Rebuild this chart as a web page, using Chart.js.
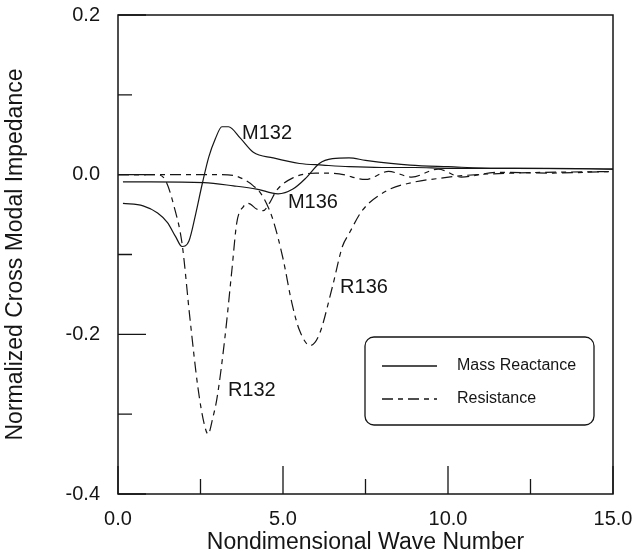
<!DOCTYPE html>
<html>
<head>
<meta charset="utf-8">
<script src="https://cdn.jsdelivr.net/npm/chart.js@4.4.0/dist/chart.umd.min.js"></script>
<style>
html,body{margin:0;padding:0;background:#fff;}
#wrap{width:633px;height:556px;position:relative;}
</style>
</head>
<body>
<div id="wrap"><canvas id="c" width="633" height="556"></canvas></div>
<script>
// ---- data ----
const m132X = [0.15, 0.76, 1.2, 1.5, 1.75, 1.94, 2.15, 2.35, 2.55, 2.75, 2.95, 3.15, 3.35, 3.7, 4.1, 4.7, 5.5, 6.2, 7.0, 8.0, 9.0, 10.0, 12.0, 15.0];
const m132Y = [-0.036, -0.039, -0.048, -0.060, -0.078, -0.090, -0.083, -0.050, -0.012, 0.022, 0.045, 0.060, 0.060, 0.046, 0.028, 0.021, 0.014, 0.012, 0.010, 0.009, 0.009, 0.008, 0.008, 0.007];

const m136X = [0.15, 1.0, 2.6, 3.5, 4.2, 4.85, 5.3, 5.7, 6.1, 6.5, 7.0, 7.5, 8.85, 10.0, 11.5, 13.0, 15.0];
const m136Y = [-0.009, -0.009, -0.010, -0.014, -0.018, -0.024, -0.018, -0.004, 0.014, 0.020, 0.021, 0.018, 0.012, 0.010, 0.008, 0.008, 0.007];

const r132X = [0.0, 1.2, 1.45, 1.7, 1.94, 2.18, 2.42, 2.6, 2.73, 2.87, 3.0, 3.24, 3.45, 3.6, 3.8, 3.95, 4.2, 4.4, 4.6, 4.8, 5.3, 6.0, 6.7, 7.5, 8.2, 8.9, 9.7, 10.4, 11.5, 13.0, 15.0];
const r132Y = [0.0, 0.0, -0.008, -0.040, -0.086, -0.180, -0.266, -0.310, -0.325, -0.305, -0.280, -0.204, -0.120, -0.060, -0.040, -0.036, -0.043, -0.045, -0.035, -0.020, -0.004, 0.002, 0.001, -0.006, 0.004, -0.003, 0.007, -0.003, 0.003, 0.002, 0.004];

const r136X = [0.0, 3.0, 3.5, 3.9, 4.1, 4.3, 4.5, 4.7, 5.0, 5.27, 5.5, 5.82, 6.1, 6.5, 6.8, 7.0, 7.4, 8.15, 8.9, 9.85, 10.5, 12.0, 15.0];
const r136Y = [0.0, 0.0, -0.001, -0.008, -0.014, -0.022, -0.036, -0.057, -0.105, -0.161, -0.195, -0.214, -0.200, -0.140, -0.090, -0.074, -0.045, -0.020, -0.010, -0.004, -0.001, 0.002, 0.004];

const xMajorTicks = [0, 5, 10, 15];
const xMinorTicks = [2.5, 7.5, 12.5];
const yMajorTicks = [-0.4, -0.2, 0.0, 0.2];
const yMinorTicks = [-0.3, -0.1, 0.1];

const seriesLabels = [
  {text: 'M132', x: 3.76, y: 0.051},
  {text: 'M136', x: 5.15, y: -0.035},
  {text: 'R136', x: 6.73, y: -0.141},
  {text: 'R132', x: 3.33, y: -0.270}
];
const legendItems = [
  {text: 'Mass Reactance', dash: []},
  {text: 'Resistance', dash: [11, 5, 5, 5]}
];

// ---- helpers ----
const ink = '#151515';
const fam = '"Liberation Sans", Arial, Helvetica, sans-serif';
const resDash = [11, 5, 5, 5];
const pts = (xs, ys) => xs.map((x, i) => ({x: x, y: ys[i]}));
const fmt = v => (Math.abs(v) < 1e-9 ? 0 : v).toFixed(1);
const noPad = s => { s.paddingTop = 0; s.paddingBottom = 0; s.paddingLeft = 0; s.paddingRight = 0; };

function ds(label, xs, ys, dash) {
  return {
    label: label,
    data: pts(xs, ys),
    borderColor: ink,
    borderWidth: 1.2,
    borderDash: dash,
    pointRadius: 0,
    fill: false,
    tension: 0.4,
    cubicInterpolationMode: 'monotone'
  };
}

const decor = {
  id: 'decor',
  afterDatasetsDraw(chart) {
    const {ctx, chartArea: a, scales: {x, y}} = chart;
    ctx.save();
    ctx.strokeStyle = ink;
    ctx.lineWidth = 1.5;
    ctx.setLineDash([]);
    ctx.strokeRect(a.left, a.top, a.right - a.left, a.bottom - a.top);
    ctx.lineWidth = 1.3;
    ctx.beginPath();
    xMajorTicks.forEach(v => { const px = x.getPixelForValue(v); ctx.moveTo(px, a.bottom); ctx.lineTo(px, a.bottom - 28); });
    xMinorTicks.forEach(v => { const px = x.getPixelForValue(v); ctx.moveTo(px, a.bottom); ctx.lineTo(px, a.bottom - 15); });
    yMajorTicks.forEach(v => { const py = y.getPixelForValue(v); ctx.moveTo(a.left, py); ctx.lineTo(a.left + 28, py); });
    yMinorTicks.forEach(v => { const py = y.getPixelForValue(v); ctx.moveTo(a.left, py); ctx.lineTo(a.left + 14, py); });
    ctx.stroke();

    // series labels
    ctx.fillStyle = ink;
    ctx.font = '20px ' + fam;
    ctx.textAlign = 'left';
    ctx.textBaseline = 'middle';
    seriesLabels.forEach(l => ctx.fillText(l.text, x.getPixelForValue(l.x), y.getPixelForValue(l.y)));

    // legend box
    const bx = 365, by = 337, bw = 229, bh = 88, r = 9;
    ctx.lineWidth = 1.3;
    ctx.beginPath();
    ctx.moveTo(bx + r, by);
    ctx.lineTo(bx + bw - r, by);
    ctx.arcTo(bx + bw, by, bx + bw, by + r, r);
    ctx.lineTo(bx + bw, by + bh - r);
    ctx.arcTo(bx + bw, by + bh, bx + bw - r, by + bh, r);
    ctx.lineTo(bx + r, by + bh);
    ctx.arcTo(bx, by + bh, bx, by + bh - r, r);
    ctx.lineTo(bx, by + r);
    ctx.arcTo(bx, by, bx + r, by, r);
    ctx.closePath();
    ctx.fillStyle = '#fff';
    ctx.fill();
    ctx.stroke();
    ctx.font = '16px ' + fam;
    ctx.fillStyle = ink;
    legendItems.forEach((it, i) => {
      const ly = by + 29 + i * 33;
      ctx.setLineDash(it.dash);
      ctx.beginPath();
      ctx.moveTo(bx + 17, ly);
      ctx.lineTo(bx + 72, ly);
      ctx.stroke();
      ctx.setLineDash([]);
      ctx.fillText(it.text, bx + 92, ly);
    });
    ctx.restore();
  }
};

new Chart(document.getElementById('c'), {
  type: 'line',
  data: {
    datasets: [
      ds('M132', m132X, m132Y, []),
      ds('M136', m136X, m136Y, []),
      ds('R132', r132X, r132Y, resDash),
      ds('R136', r136X, r136Y, resDash)
    ]
  },
  options: {
    responsive: false,
    animation: false,
    devicePixelRatio: 1,
    layout: {padding: {top: 15, right: 20, left: 0, bottom: 0}},
    plugins: {legend: {display: false}, tooltip: {enabled: false}},
    scales: {
      x: {
        type: 'linear', min: 0, max: 15,
        afterFit: s => { s.height = 62; noPad(s); },
        afterBuildTicks: s => { s.ticks = xMajorTicks.map(v => ({value: v})); },
        ticks: {callback: v => fmt(v), color: ink, padding: 13, maxRotation: 0, font: {family: fam, size: 20}},
        grid: {display: false, drawTicks: false},
        border: {display: false},
        title: {display: true, text: 'Nondimensional Wave Number', color: ink, padding: {top: 0, bottom: 0}, font: {family: fam, size: 23}}
      },
      y: {
        type: 'linear', min: -0.4, max: 0.2,
        afterFit: s => { s.width = 118; noPad(s); },
        afterBuildTicks: s => { s.ticks = yMajorTicks.map(v => ({value: v})); },
        ticks: {callback: v => fmt(v), color: ink, padding: 18, font: {family: fam, size: 20}},
        grid: {display: false, drawTicks: false},
        border: {display: false},
        title: {display: true, text: 'Normalized Cross Modal Impedance', color: ink, padding: {top: 2, bottom: 0}, font: {family: fam, size: 23}}
      }
    }
  },
  plugins: [decor]
});
</script>
</body>
</html>
